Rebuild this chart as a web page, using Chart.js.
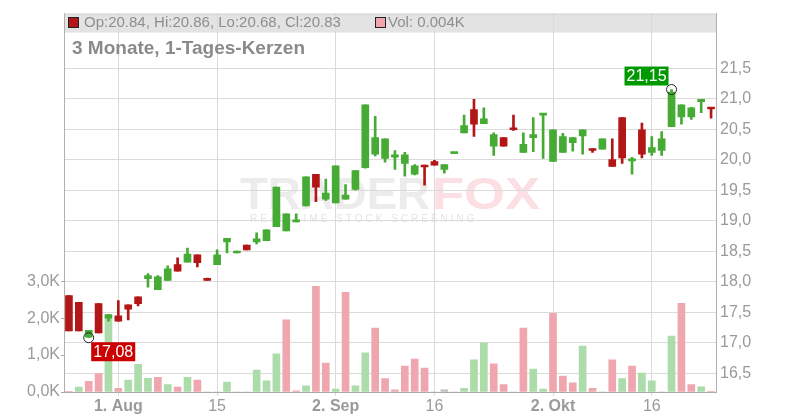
<!DOCTYPE html>
<html>
<head>
<meta charset="utf-8">
<script src="https://cdn.jsdelivr.net/npm/chart.js@4.4.1/dist/chart.umd.min.js"></script>
<style>
  html, body { margin: 0; padding: 0; background: #fff; }
  #wrap { width: 800px; height: 420px; }
</style>
</head>
<body>
<div id="wrap"><canvas id="chart" width="800" height="420"></canvas></div>
<script>
// Trading days (one candle each)
const dates = [
  "2024-07-25", "2024-07-26", "2024-07-29", "2024-07-30", "2024-07-31",
  "2024-08-01", "2024-08-02", "2024-08-05", "2024-08-06", "2024-08-07",
  "2024-08-08", "2024-08-09", "2024-08-12", "2024-08-13", "2024-08-14",
  "2024-08-15", "2024-08-16", "2024-08-19", "2024-08-20", "2024-08-21",
  "2024-08-22", "2024-08-23", "2024-08-26", "2024-08-27", "2024-08-28",
  "2024-08-29", "2024-08-30", "2024-09-02", "2024-09-03", "2024-09-04",
  "2024-09-05", "2024-09-06", "2024-09-09", "2024-09-10", "2024-09-11",
  "2024-09-12", "2024-09-13", "2024-09-16", "2024-09-17", "2024-09-18",
  "2024-09-19", "2024-09-20", "2024-09-23", "2024-09-24", "2024-09-25",
  "2024-09-26", "2024-09-27", "2024-09-30", "2024-10-01", "2024-10-02",
  "2024-10-03", "2024-10-04", "2024-10-07", "2024-10-08", "2024-10-09",
  "2024-10-10", "2024-10-11", "2024-10-14", "2024-10-15", "2024-10-16",
  "2024-10-17", "2024-10-18", "2024-10-21", "2024-10-22", "2024-10-23",
  "2024-10-24",
];

const opens = [
  17.77, 17.66, 17.09, 17.64, 17.40, 17.44, 17.62, 17.75, 18.05, 17.87,
  18.02, 18.28, 18.32, 18.44, 18.05, 18.28, 18.65, 18.47, 18.60, 18.65,
  18.67, 18.90, 18.83, 18.98, 19.24, 19.76, 19.35, 19.29, 19.35, 19.51,
  19.87, 20.09, 20.02, 20.04, 19.94, 19.76, 19.91, 19.97, 19.84, 20.10,
  20.44, 20.82, 20.59, 20.22, 20.36, 20.52, 20.12, 20.36, 20.73, 19.97,
  20.12, 20.28, 20.39, 20.18, 20.17, 20.00, 20.69, 19.98, 20.49, 20.12,
  20.15, 20.54, 20.70, 20.70, 20.95, 20.84,
];
const highs = [
  17.77, 17.66, 17.20, 17.64, 17.46, 17.69, 17.62, 17.75, 18.13, 18.10,
  18.26, 18.39, 18.55, 18.44, 18.06, 18.52, 18.71, 18.50, 18.60, 18.80,
  18.85, 19.55, 19.11, 19.11, 19.72, 19.76, 19.68, 19.90, 19.59, 19.82,
  20.90, 20.71, 20.34, 20.15, 20.12, 19.92, 19.91, 19.99, 19.92, 20.12,
  20.73, 20.99, 20.85, 20.44, 20.36, 20.73, 20.44, 20.69, 20.76, 20.49,
  20.43, 20.36, 20.49, 20.18, 20.34, 20.34, 20.69, 20.04, 20.60, 20.38,
  20.46, 21.15, 20.90, 20.86, 20.99, 20.86,
];
const lows = [
  17.19, 17.19, 17.08, 17.16, 17.35, 17.35, 17.37, 17.60, 17.91, 17.87,
  18.02, 18.17, 18.32, 18.24, 18.02, 18.28, 18.47, 18.47, 18.52, 18.62,
  18.67, 18.90, 18.83, 18.98, 19.24, 19.31, 19.33, 19.29, 19.35, 19.50,
  19.86, 20.06, 19.96, 19.84, 19.73, 19.75, 19.58, 19.91, 19.78, 20.10,
  20.44, 20.38, 20.59, 20.07, 20.22, 20.48, 20.12, 20.13, 20.02, 19.97,
  20.12, 20.14, 20.09, 20.12, 20.17, 19.89, 19.94, 19.76, 20.03, 20.07,
  20.07, 20.54, 20.58, 20.66, 20.77, 20.68,
];
const closes = [
  17.19, 17.19, 17.20, 17.16, 17.46, 17.35, 17.55, 17.64, 18.10, 18.08,
  18.21, 18.17, 18.45, 18.31, 18.02, 18.44, 18.71, 18.50, 18.52, 18.70,
  18.85, 19.55, 19.11, 19.00, 19.72, 19.55, 19.45, 19.90, 19.42, 19.82,
  20.90, 20.36, 20.34, 20.08, 20.08, 19.90, 19.88, 19.91, 19.92, 20.12,
  20.56, 20.58, 20.67, 20.41, 20.22, 20.49, 20.25, 20.41, 20.76, 20.49,
  20.38, 20.36, 20.49, 20.15, 20.34, 19.89, 20.03, 20.01, 20.09, 20.20,
  20.34, 21.11, 20.90, 20.85, 20.99, 20.83,
];

// Volume in thousands, and its bar colour (1 up, -1 down, 0 unchanged)
const volumes = [
  0.02, 0.13, 0.29, 0.50, 2.00, 0.10, 0.32, 0.75, 0.37, 0.40,
  0.20, 0.13, 0.40, 0.32, 0, 0, 0.27, 0, 0, 0.59,
  0.30, 1.03, 1.95, 0.03, 0.17, 2.86, 0.78, 0.08, 2.70, 0.17,
  1.06, 1.73, 0.36, 0.06, 0.70, 0.89, 0.65, 0, 0.06, 0,
  0.10, 0.87, 1.33, 0.76, 0.20, 0, 1.73, 0.62, 0.08, 2.13,
  0.43, 0.25, 1.24, 0.10, 0, 0.87, 0.36, 0.70, 0.51, 0.30,
  0, 1.51, 2.40, 0.20, 0.14, 0.004,
];
const volDir = [
  -1, 1, -1, -1, 1, -1, 1, 1, 1, -1,
  1, -1, 1, -1, 0, 0, 1, 0, 0, 1,
  1, 1, -1, -1, 1, -1, -1, 1, -1, 1,
  1, -1, -1, -1, -1, -1, -1, 0, 0, 0,
  1, 1, 1, -1, -1, 0, -1, 1, 1, -1,
  -1, -1, 1, -1, 0, -1, 1, -1, 1, 1,
  0, 1, -1, -1, 1, -1,
];

// Axis ticks
const tickDates = ["2024-08-01", "2024-08-15", "2024-09-02", "2024-09-16", "2024-10-02", "2024-10-16"];
const tickText = ["1. Aug", "15", "2. Sep", "16", "2. Okt", "16"];
const priceTicks = [16.5, 17.0, 17.5, 18.0, 18.5, 19.0, 19.5, 20.0, 20.5, 21.0, 21.5];
const volTicks = [0, 1, 2, 3];

const FONT = '"Liberation Sans", Arial, sans-serif';
const UP = "#46ab34";
const DOWN = "#b31616";
const volColors = { "1": "#abdca9", "-1": "#efa6ae", "0": "#bdbdbd" };

const tickIndex = tickDates.map((d) => dates.indexOf(d));
const candleColor = closes.map((c, i) => (c >= opens[i] ? UP : DOWN));
const last = dates.length - 1;
const comma = (v, d) => v.toFixed(d).replace(".", ",");

// header band + watermark, under the grid
const backgroundPlugin = {
  id: "background",
  beforeDraw(chart) {
    const { ctx, chartArea: a } = chart;
    ctx.save();
    ctx.fillStyle = "#e3e3e3";
    ctx.fillRect(a.left, a.top + 1, a.right - a.left, 18);

    // TRADERFOX watermark
    ctx.textBaseline = "alphabetic";
    ctx.font = "bold 44px " + FONT;
    let w = ctx.measureText("TRADER").width;
    ctx.save();
    ctx.translate(240, 209);
    ctx.scale(190 / w, 1);
    ctx.fillStyle = "#ececec";
    ctx.fillText("TRADER", 0, 0);
    ctx.restore();
    w = ctx.measureText("FOX").width;
    ctx.save();
    ctx.translate(432, 209);
    ctx.scale(108 / w, 1);
    ctx.fillStyle = "#fbdfe2";
    ctx.fillText("FOX", 0, 0);
    ctx.restore();
    ctx.font = "10px " + FONT;
    ctx.letterSpacing = "3px";
    ctx.fillStyle = "#e4e4e4";
    ctx.fillText("REAL-TIME STOCK SCREENING", 250, 222);
    ctx.restore();
  },
};

// low / high markers
const markerPlugin = {
  id: "markers",
  afterDatasetsDraw(chart) {
    const { ctx, scales } = chart;
    const lo = lows.indexOf(Math.min(...lows));
    const hi = highs.indexOf(Math.max(...highs));
    const marks = [
      { i: lo, v: lows[lo], bg: "#cc0000", below: true },
      { i: hi, v: highs[hi], bg: "#009a00", below: false },
    ];
    ctx.save();
    ctx.font = "16px " + FONT;
    ctx.textBaseline = "middle";
    for (const m of marks) {
      const cx = scales.x.getPixelForValue(m.i);
      const cy = scales.y.getPixelForValue(m.v);
      ctx.beginPath();
      ctx.arc(cx, cy, 5, 0, Math.PI * 2);
      ctx.strokeStyle = "#222";
      ctx.lineWidth = 1;
      ctx.stroke();

      const text = comma(m.v, 2);
      const bw = ctx.measureText(text).width + 4;
      const bh = 19;
      const bx = m.below ? cx + 2.5 : cx - 3 - bw;
      const by = m.below ? cy + 4.5 : cy - 4 - bh;
      ctx.fillStyle = m.bg;
      ctx.fillRect(bx, by, bw, bh);
      ctx.fillStyle = "#fff";
      ctx.fillText(text, bx + 2, by + bh / 2 + 1);
    }
    ctx.restore();
  },
};

// frame top, header texts and title
const headerPlugin = {
  id: "header",
  afterDraw(chart) {
    const { ctx, chartArea: a } = chart;
    ctx.save();
    ctx.strokeStyle = "#c8c8c8";
    ctx.lineWidth = 1;
    ctx.beginPath();
    ctx.moveTo(a.left, a.top + 0.5);
    ctx.lineTo(a.right, a.top + 0.5);
    ctx.stroke();

    ctx.strokeStyle = "#222";
    ctx.fillStyle = DOWN;
    ctx.fillRect(68.5, 17.5, 10, 10);
    ctx.strokeRect(68.5, 17.5, 10, 10);
    ctx.fillStyle = volColors["-1"];
    ctx.fillRect(375.5, 17.5, 10, 10);
    ctx.strokeRect(375.5, 17.5, 10, 10);

    ctx.fillStyle = "#8e8e8e";
    ctx.font = "15px " + FONT;
    ctx.textBaseline = "alphabetic";
    const ohlc =
      "Op:" + opens[last].toFixed(2) +
      ", Hi:" + highs[last].toFixed(2) +
      ", Lo:" + lows[last].toFixed(2) +
      ", Cl:" + closes[last].toFixed(2);
    ctx.fillText(ohlc, 84, 26.5);
    ctx.fillText("Vol: " + volumes[last].toFixed(3) + "K", 388, 26.5);

    ctx.fillStyle = "#8a8a8a";
    ctx.font = "bold 19px " + FONT;
    ctx.fillText("3 Monate, 1-Tages-Kerzen", 72, 54);
    ctx.restore();
  },
};

new Chart(document.getElementById("chart"), {
  type: "bar",
  data: {
    labels: dates,
    datasets: [
      {
        label: "Kerze",
        data: opens.map((o, i) => [o, closes[i]]),
        yAxisID: "y",
        backgroundColor: candleColor,
        barThickness: 7,
        minBarLength: 2,
        grouped: false,
        order: 1,
      },
      {
        label: "Docht",
        data: lows.map((l, i) => [l, highs[i]]),
        yAxisID: "y",
        backgroundColor: candleColor,
        barThickness: 2,
        grouped: false,
        order: 2,
      },
      {
        label: "Volumen",
        data: volumes,
        yAxisID: "yv",
        backgroundColor: volDir.map((d) => volColors[String(d)]),
        barThickness: 7,
        grouped: false,
        order: 3,
      },
    ],
  },
  options: {
    responsive: false,
    animation: false,
    events: [],
    layout: { padding: { top: 11, left: 0, right: 0, bottom: 0 } },
    plugins: { legend: { display: false }, tooltip: { enabled: false } },
    scales: {
      x: {
        type: "category",
        offset: true,
        grid: { offset: false, color: "#dadada", drawTicks: true, tickLength: 4 },
        border: { color: "#aaaaaa" },
        ticks: {
          autoSkip: false,
          maxRotation: 0,
          padding: 1,
          color: "#9a9a9a",
          font: (c) => ({
            family: FONT,
            size: 16,
            weight: tickText[c.index] && tickText[c.index].includes(".") ? "bold" : "normal",
          }),
          callback: (v) => tickText[tickIndex.indexOf(v)],
        },
        afterBuildTicks: (s) => {
          s.ticks = tickIndex.map((v) => ({ value: v }));
        },
        afterFit: (s) => {
          s.height = 28;
        },
      },
      y: {
        position: "right",
        min: 16.19,
        max: 22.395,
        grid: { color: "#dadada", drawTicks: false },
        border: { color: "#b0b0b0" },
        ticks: {
          padding: 4,
          color: "#9a9a9a",
          font: { family: FONT, size: 16 },
          callback: (v) => comma(v, 1),
        },
        afterBuildTicks: (s) => {
          s.ticks = priceTicks.map((v) => ({ value: v }));
        },
        afterFit: (s) => {
          s.width = 84;
        },
      },
      yv: {
        position: "left",
        min: 0,
        max: 10.24,
        grid: { drawOnChartArea: false, drawTicks: true, tickLength: 3, color: "#aaaaaa" },
        border: { color: "#b0b0b0" },
        ticks: {
          padding: 1,
          color: "#9a9a9a",
          font: { family: FONT, size: 16 },
          callback: (v) => comma(v, 1) + "K",
        },
        afterBuildTicks: (s) => {
          s.ticks = volTicks.map((v) => ({ value: v }));
        },
        afterFit: (s) => {
          s.width = 64;
        },
      },
    },
  },
  plugins: [backgroundPlugin, markerPlugin, headerPlugin],
});
</script>
</body>
</html>
